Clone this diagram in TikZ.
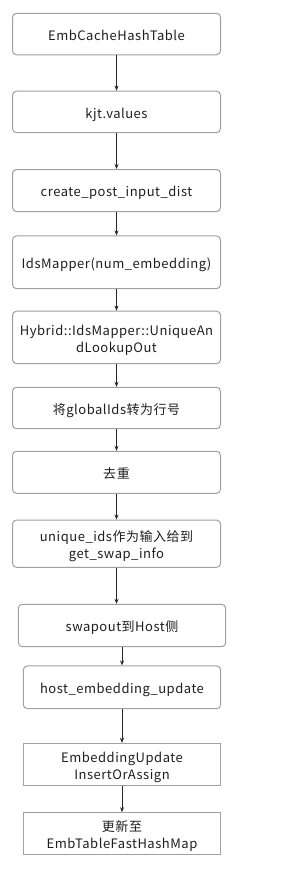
\documentclass[tikz,border=0pt]{standalone}
\usepackage{fontspec}
\setmainfont{Noto Sans CJK SC}[LetterSpace=4]
\usetikzlibrary{arrows.meta}
\definecolor{bordergray}{RGB}{160,160,160}
\definecolor{txt}{RGB}{30,30,30}
\newcommand{\boxtxt}[1]{\raisebox{-3pt}[\height][\depth]{\begin{tabular}{@{}c@{}}#1\end{tabular}}}
\tikzset{
  flowbox/.style={draw=bordergray, line width=1pt, rounded corners=4pt, align=center,
    text=txt, font=\fontsize{13}{17}\selectfont, inner sep=0pt},
  flatbox/.style={flowbox, rounded corners=0pt},
  arr/.style={draw=black!85, line width=0.9pt, -{Stealth[length=5pt,width=4pt]}},
}
\begin{document}
\begin{tikzpicture}[x=1pt,y=-1pt]
\useasboundingbox (0,0) rectangle (297,871);
\node[flowbox, minimum width=208pt, minimum height=41.5pt] (b1) at (116.5,34.0) {\boxtxt{EmbCacheHashTable}};
\node[flowbox, minimum width=208pt, minimum height=41.5pt] (b2) at (116.5,111.9) {\boxtxt{kjt.values}};
\node[flowbox, minimum width=208pt, minimum height=42pt] (b3) at (116.5,190.5) {\boxtxt{create\_post\_input\_dist}};
\node[flowbox, minimum width=208pt, minimum height=52.7pt] (b4) at (116.5,262.3) {\boxtxt{IdsMapper(num\_embedding)}};
\node[flowbox, minimum width=208pt, minimum height=52.5pt] (b5) at (116.5,337.4) {\boxtxt{Hybrid::IdsMapper::UniqueAn\\dLookupOut}};
\node[flowbox, minimum width=208pt, minimum height=41.4pt] (b6) at (116.5,408) {\boxtxt{将globalIds转为行号}};
\node[flowbox, minimum width=208pt, minimum height=42pt] (b7) at (116.5,472.3) {\boxtxt{去重}};
\node[flowbox, minimum width=208pt, minimum height=47.3pt] (b8) at (116.5,543.7) {\boxtxt{unique\_ids作为输入给到\\get\_swap\_info}};
\node[flowbox, minimum width=207.4pt, minimum height=42.4pt] (b9) at (122,625.5) {\boxtxt{swapout到Host侧}};
\node[flowbox, minimum width=197.4pt, minimum height=42.7pt] (b10) at (122,687.3) {\boxtxt{host\_embedding\_update}};
\node[flatbox, minimum width=197.4pt, minimum height=41.7pt] (b11) at (122,764.2) {\boxtxt{EmbeddingUpdate\\InsertOrAssign}};
\node[flatbox, minimum width=197.4pt, minimum height=42pt] (b12) at (122,833.7) {\boxtxt{更新至\\EmbTableFastHashMap}};
\draw[arr] (b1) -- (b2);
\draw[arr] (b2) -- (b3);
\draw[arr] (b3) -- (b4);
\draw[arr] (b4) -- (b5);
\draw[arr] (b5) -- (b6);
\draw[arr] (b6) -- (b7);
\draw[arr] (b7) -- (b8);
\draw[arr] (b8.south) -- (b8.south |- b9.north);
\draw[arr] (b9.south -| b10.north) -- (b10.north);
\draw[arr] (b10) -- (b11);
\draw[arr] (b11) -- (b12);
\end{tikzpicture}
\end{document}
